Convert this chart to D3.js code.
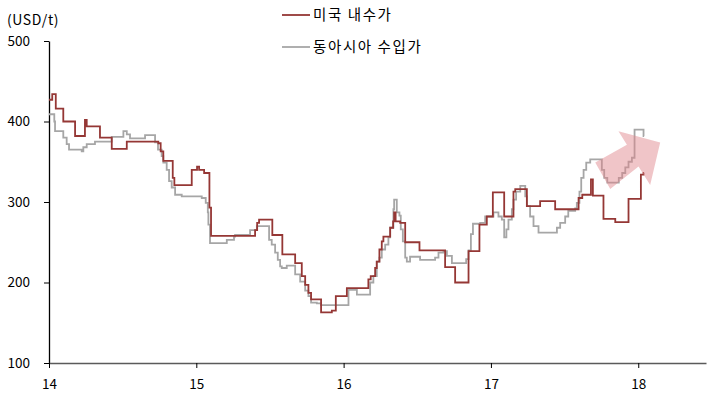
<!DOCTYPE html>
<html>
<head>
<meta charset="utf-8">
<script src="https://cdn.jsdelivr.net/npm/d3@7"></script>
<style>
  html, body { margin: 0; padding: 0; background: #fff; }
  svg { display: block; }
  text { font-family: "Noto Sans CJK KR", "Noto Sans", sans-serif; fill: #000; }
</style>
</head>
<body>
<svg id="chart" width="708" height="394"></svg>
<script>
// Step series: each pair is [year (YY.fraction), price in USD/t], value holds until the next pair
const usDomestic = [
  [14.000, 427], [14.022, 434], [14.046, 416], [14.097, 400], [14.177, 382],
  [14.244, 402], [14.256, 394], [14.346, 380], [14.426, 366], [14.528, 375],
  [14.742, 373], [14.758, 363], [14.776, 351], [14.840, 330], [14.851, 321],
  [14.969, 340], [15.005, 344], [15.019, 340], [15.053, 336], [15.089, 293],
  [15.100, 258], [15.399, 265], [15.413, 274], [15.426, 278], [15.516, 259],
  [15.584, 235], [15.671, 224], [15.716, 208], [15.739, 197], [15.761, 187],
  [15.779, 179], [15.847, 163], [15.920, 165], [15.947, 183], [16.022, 193],
  [16.168, 204], [16.184, 208], [16.214, 218], [16.225, 226], [16.243, 241],
  [16.259, 251], [16.270, 257], [16.316, 268], [16.336, 276], [16.343, 287],
  [16.353, 276], [16.384, 274], [16.418, 250], [16.515, 240], [16.689, 219],
  [16.757, 200], [16.848, 239], [16.922, 272], [16.972, 282], [17.013, 312],
  [17.090, 282], [17.153, 313], [17.165, 316], [17.244, 295], [17.334, 301],
  [17.436, 291], [17.595, 305], [17.620, 309], [17.679, 328], [17.692, 308],
  [17.764, 279], [17.844, 275], [17.934, 304], [18.018, 334], [18.036, 336],
  [18.040, 336]
];

const eastAsiaImport = [
  [14.000, 409], [14.036, 400], [14.041, 388], [14.097, 380], [14.120, 372],
  [14.136, 365], [14.222, 363], [14.233, 368], [14.256, 372], [14.312, 375],
  [14.426, 381], [14.505, 388], [14.528, 384], [14.550, 379], [14.652, 383],
  [14.720, 374], [14.740, 365], [14.765, 357], [14.776, 349], [14.799, 340],
  [14.815, 326], [14.833, 318], [14.856, 309], [14.901, 307], [15.037, 305],
  [15.064, 299], [15.078, 287], [15.082, 272], [15.093, 249], [15.207, 253],
  [15.256, 257], [15.263, 259], [15.365, 265], [15.411, 270], [15.494, 253],
  [15.512, 247], [15.535, 237], [15.553, 228], [15.569, 220], [15.580, 218],
  [15.614, 221], [15.671, 210], [15.705, 201], [15.739, 190], [15.761, 183],
  [15.779, 175], [15.818, 174], [15.847, 172], [16.033, 191], [16.090, 185],
  [16.180, 200], [16.202, 208], [16.225, 226], [16.243, 231], [16.259, 241],
  [16.282, 247], [16.304, 256], [16.316, 268], [16.338, 291], [16.343, 303],
  [16.361, 287], [16.379, 283], [16.388, 266], [16.402, 251], [16.418, 231],
  [16.429, 226], [16.451, 232], [16.519, 228], [16.621, 231], [16.644, 237],
  [16.678, 239], [16.701, 233], [16.735, 224], [16.832, 229], [16.848, 240],
  [16.864, 260], [16.878, 273], [16.927, 274], [16.961, 282], [17.017, 287],
  [17.051, 282], [17.074, 278], [17.090, 256], [17.105, 266], [17.119, 278],
  [17.142, 291], [17.153, 303], [17.171, 313], [17.199, 320], [17.233, 307],
  [17.244, 295], [17.266, 282], [17.289, 270], [17.323, 262], [17.448, 268],
  [17.470, 274], [17.504, 282], [17.525, 289], [17.572, 292], [17.583, 299],
  [17.601, 313], [17.613, 330], [17.629, 340], [17.647, 349], [17.674, 353],
  [17.753, 340], [17.769, 330], [17.790, 324], [17.868, 330], [17.891, 336],
  [17.912, 343], [17.934, 350], [17.957, 355], [17.975, 390], [18.036, 382],
  [18.040, 382]
];

const yearTicks = [14, 15, 16, 17, 18];
const priceTicks = [100, 200, 300, 400, 500];
const seriesNames = ["미국 내수가", "동아시아 수입가"];
const unitLabel = "(USD/t)";

// Upward trend arrow outline, in [year, price] space
const trendArrow = [
  [17.708, 349], [17.923, 371], [17.866, 388], [18.149, 374],
  [18.081, 321], [18.002, 344], [17.810, 316]
];

const colors = { us: "#953735", asia: "#a6a6a6", arrow: "#e0868c" };

const svg = d3.select("#chart");

const x = d3.scaleLinear().domain([14, 18.46]).range([49, 706]);
const y = d3.scaleLinear().domain([100, 500]).range([363, 41]);

// Axes
const xAxis = d3.axisBottom(x).tickValues(yearTicks).tickSize(5).tickSizeOuter(0)
  .tickFormat(d3.format("d"));
const yAxis = d3.axisLeft(y).tickValues(priceTicks).tickSize(5).tickSizeOuter(0)
  .tickFormat(d3.format("d"));

const gy = svg.append("g").attr("transform", `translate(${x(14)},0)`).call(yAxis);
gy.select(".domain").attr("stroke", "#000").attr("stroke-width", 1.3);
gy.selectAll(".tick line").attr("stroke", "#000").attr("stroke-width", 1);
gy.selectAll(".tick text").attr("x", -19).attr("font-size", 13.5)
  .style("font-family", '"Noto Sans CJK KR", sans-serif');

// Series lines
const line = d3.line()
  .x(d => x(d[0]))
  .y(d => y(d[1]))
  .curve(d3.curveStepAfter);

svg.append("path").datum(eastAsiaImport)
  .attr("fill", "none").attr("stroke", colors.asia)
  .attr("stroke-width", 1.8).attr("d", line);

svg.append("path").datum(usDomestic)
  .attr("fill", "none").attr("stroke", colors.us)
  .attr("stroke-width", 1.8).attr("d", line);

const gx = svg.append("g").attr("transform", `translate(0,${y(100)})`).call(xAxis);
gx.select(".domain").attr("stroke", "#5a5a5a").attr("stroke-width", 1.5);
gx.selectAll(".tick line").attr("stroke", "#000").attr("stroke-width", 1);
gx.selectAll(".tick text").attr("y", 16).attr("font-size", 13.5)
  .style("font-family", '"Noto Sans CJK KR", sans-serif');

// Trend arrow
svg.append("path")
  .attr("d", d3.line().x(d => x(d[0])).y(d => y(d[1]))(trendArrow) + "Z")
  .attr("fill", colors.arrow).attr("opacity", 0.48);

// Unit label
svg.append("text").attr("x", 7).attr("y", 25).attr("font-size", 14)
  .attr("letter-spacing", 0.6).text(unitLabel);

// Legend
const legend = svg.append("g");
[[colors.us, 15], [colors.asia, 47]].forEach(([c, ly], i) => {
  legend.append("line").attr("x1", 282).attr("x2", 310).attr("y1", ly).attr("y2", ly)
    .attr("stroke", c).attr("stroke-width", 1.8);
  legend.append("text").attr("x", 313).attr("y", ly).attr("dy", "0.35em")
    .attr("font-size", 14.5).attr("letter-spacing", 1.6).text(seriesNames[i]);
});
</script>
</body>
</html>
